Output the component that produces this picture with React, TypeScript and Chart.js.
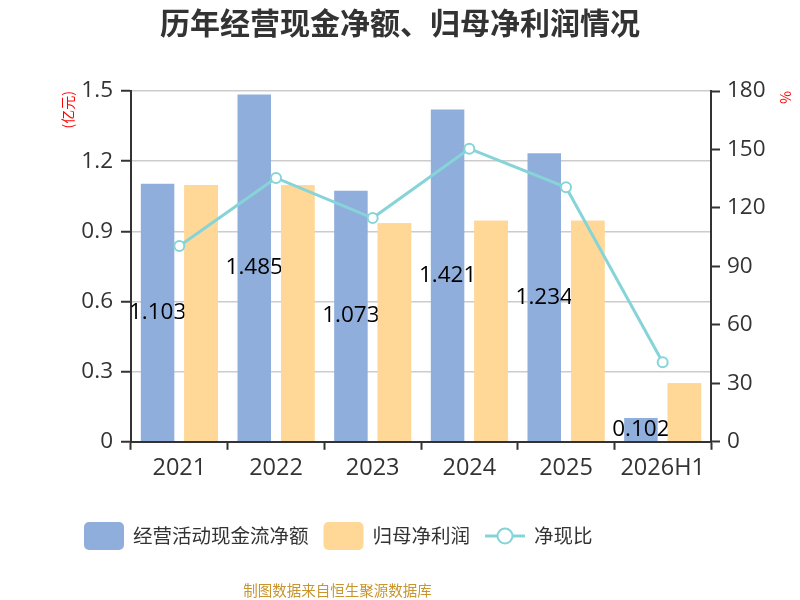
import React, { useEffect, useRef } from 'react';
import { Chart, registerables } from 'chart.js';

Chart.register(...registerables);

const categories = ['2021', '2022', '2023', '2024', '2025', '2026H1'];
const cashFlow = [1.103, 1.485, 1.073, 1.421, 1.234, 0.102];
const netProfit = [1.098, 1.097, 0.935, 0.945, 0.945, 0.25];
const cashRatio = [100.5, 135.4, 114.8, 150.4, 130.6, 40.8];
const seriesNames = ['经营活动现金流净额', '归母净利润', '净现比'];
const leftRange = [0, 1.5, 0.3];
const rightRange = [0, 180, 30];
const titleText = '历年经营现金净额、归母净利润情况';
const sourceText = '制图数据来自恒生聚源数据库';
const leftAxisTitle = '(亿元)';
const rightAxisTitle = '%';

const FONT = '"Noto Sans CJK SC", "Noto Sans", sans-serif';
const NUM_FONT = '"Open Sans", "Noto Sans CJK SC", sans-serif';
const BLUE = '#8FAEDB';
const ORANGE = '#FFD797';
const TEAL = '#86D4D8';
const DARK = '#333333';

export default function App() {
  const ref = useRef<HTMLCanvasElement>(null);

  useEffect(() => {
    document.body.style.margin = '0';
    if (!ref.current) return;
    Chart.defaults.font.family = FONT;

    const barLabels = {
      id: 'barLabels',
      afterDatasetDraw(chart: any, args: any) {
        if (args.index !== 0) return;
        const { ctx } = chart;
        ctx.save();
        ctx.font = `22.5px ${NUM_FONT}`;
        ctx.fillStyle = '#000';
        ctx.textAlign = 'center';
        ctx.textBaseline = 'middle';
        args.meta.data.forEach((el: any, i: number) => {
          ctx.fillText(cashFlow[i].toFixed(3), el.x, (el.y + el.base) / 2);
        });
        ctx.restore();
        // the second bar series sits above the labels
        const meta1 = chart.getDatasetMeta(1);
        ctx.save();
        meta1.data.forEach((el: any) => el.draw(ctx));
        ctx.restore();
      },
    };

    const customLegend = {
      id: 'customLegend',
      afterDraw(chart: any) {
        const { ctx } = chart;
        ctx.save();
        const cy = 536;
        let x = 84;
        ctx.font = `19.5px ${FONT}`;
        ctx.textBaseline = 'middle';
        ctx.textAlign = 'left';
        chart.data.datasets.forEach((ds: any) => {
          if (ds.type === 'line') {
            ctx.strokeStyle = ds.borderColor;
            ctx.lineWidth = 3;
            ctx.beginPath();
            ctx.moveTo(x, cy);
            ctx.lineTo(x + 40, cy);
            ctx.stroke();
            ctx.beginPath();
            ctx.arc(x + 20, cy, 7.5, 0, Math.PI * 2);
            ctx.fillStyle = '#fff';
            ctx.fill();
            ctx.lineWidth = 2;
            ctx.stroke();
          } else {
            ctx.fillStyle = ds.backgroundColor;
            ctx.beginPath();
            (ctx as any).roundRect(x, cy - 14, 40, 28, 5);
            ctx.fill();
          }
          ctx.fillStyle = DARK;
          ctx.fillText(ds.label, x + 49, cy);
          x += 49 + ctx.measureText(ds.label).width + 15;
        });
        ctx.font = `14.5px ${FONT}`;
        ctx.fillStyle = '#C8952E';
        ctx.textAlign = 'center';
        ctx.fillText(sourceText, 337.5, 590);
        ctx.restore();
      },
    };

    const chart = new Chart(ref.current, {
      type: 'bar',
      data: {
        labels: categories,
        datasets: [
          {
            type: 'bar',
            label: seriesNames[0],
            data: cashFlow,
            backgroundColor: BLUE,
            yAxisID: 'y',
            order: 1,
            categoryPercentage: 0.9,
            barPercentage: 0.77,
          },
          {
            type: 'bar',
            label: seriesNames[1],
            data: netProfit,
            backgroundColor: ORANGE,
            yAxisID: 'y',
            order: 1,
            categoryPercentage: 0.9,
            barPercentage: 0.77,
          },
          {
            type: 'line',
            label: seriesNames[2],
            data: cashRatio,
            borderColor: TEAL,
            backgroundColor: TEAL,
            borderWidth: 3,
            pointRadius: 5,
            pointBackgroundColor: '#fff',
            pointBorderColor: TEAL,
            pointBorderWidth: 2,
            yAxisID: 'y1',
            order: 0,
            tension: 0,
          },
        ] as any,
      },
      plugins: [barLabels, customLegend],
      options: {
        animation: false,
        responsive: false,
        layout: { padding: { left: 0, right: 0, top: 0, bottom: 114 } },
        plugins: {
          legend: { display: false },
          tooltip: { enabled: false },
          title: {
            display: true,
            text: titleText,
            color: DARK,
            font: { size: 30, weight: 'bold' },
            padding: { top: 5, bottom: 50 },
          },
        },
        scales: {
          x: {
            offset: true,
            grid: {
              display: true,
              drawOnChartArea: false,
              offset: true,
              tickLength: 8,
              tickColor: DARK,
              tickWidth: 2,
            },
            border: { color: DARK, width: 2 },
            ticks: { color: DARK, font: { size: 23.5, family: NUM_FONT }, padding: 4 },
          },
          y: {
            position: 'left',
            min: leftRange[0],
            max: leftRange[1],
            ticks: {
              stepSize: leftRange[2],
              color: DARK,
              font: { size: 22.5, family: NUM_FONT },
              padding: 8,
              callback: (v: any) => (Math.abs(v) < 1e-9 ? '0' : Number(v).toFixed(1)),
            },
            grid: {
              color: (c: any) => (c.tick && Math.abs(c.tick.value) < 1e-9 ? 'rgba(0,0,0,0)' : '#CCCCCC'),
              lineWidth: 1.5,
              tickLength: 10,
              tickColor: DARK,
              tickWidth: 2,
            },
            border: { color: DARK, width: 2 },
            title: {
              display: true,
              text: leftAxisTitle,
              color: '#FF0000',
              align: 'end',
              font: { size: 14 },
              padding: { top: 59.5, bottom: 0 },
            },
            afterFit: (s: any) => {
              s.width = 131;
            },
          },
          y1: {
            position: 'right',
            min: rightRange[0],
            max: rightRange[1],
            ticks: {
              stepSize: rightRange[2],
              color: DARK,
              font: { size: 22.5, family: NUM_FONT },
              padding: 7,
            },
            grid: {
              drawOnChartArea: false,
              tickLength: 9,
              tickColor: DARK,
              tickWidth: 2,
            },
            border: { color: DARK, width: 2 },
            title: {
              display: true,
              text: rightAxisTitle,
              color: '#FF0000',
              align: 'end',
              font: { size: 14 },
              padding: { top: 6, bottom: 0 },
            },
            afterFit: (s: any) => {
              s.width = 89;
            },
          },
        },
      } as any,
    });

    return () => chart.destroy();
  }, []);

  return (
    <div style={{ width: 800, height: 600 }}>
      <canvas ref={ref} width={800} height={600} />
    </div>
  );
}
